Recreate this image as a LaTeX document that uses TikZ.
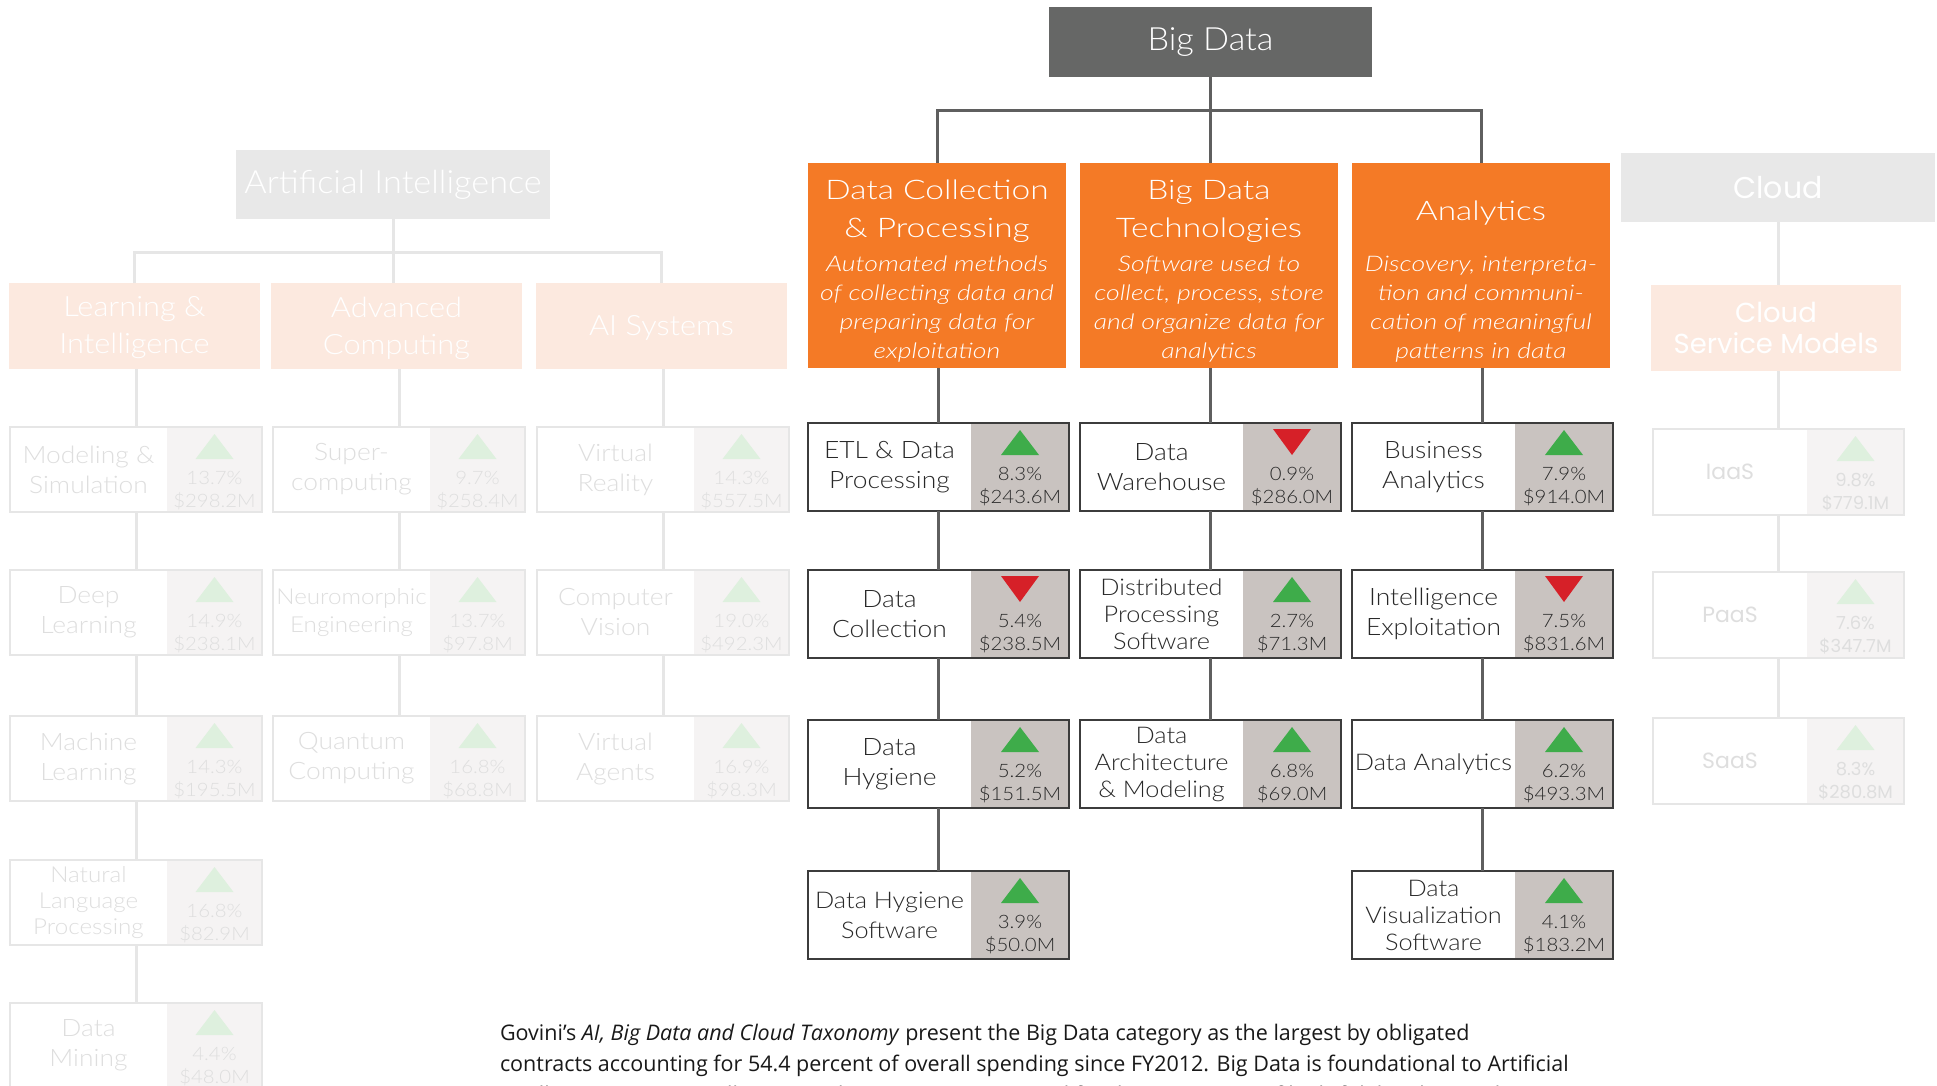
\documentclass[tikz,border=0pt]{standalone}
\usepackage{fontspec}
\setmainfont{Lato Light}[FakeStretch=1.1, ItalicFont={Lato Light Italic}]
\newfontfamily\ttlfont{Lato Light}[FakeStretch=1.07]
\newfontfamily\obfont{Lato Light}[FakeStretch=1.24, ItalicFont={Lato Light Italic}]
\newfontfamily\popfont{Poppins}
\newfontfamily\bodyfont{Open Sans}
\usetikzlibrary{calc}

\definecolor{orangeC}{RGB}{244,122,38}
\definecolor{bigdark}{RGB}{102,103,102}
\definecolor{linedark}{RGB}{95,95,95}
\definecolor{borderdark}{RGB}{60,60,60}
\definecolor{graypart}{RGB}{201,195,192}
\definecolor{upgreen}{RGB}{62,172,74}
\definecolor{downred}{RGB}{214,32,40}
\definecolor{textdark}{RGB}{40,40,40}
\definecolor{bodydark}{RGB}{25,25,25}
\definecolor{fadebox}{RGB}{232,232,232}
\definecolor{peach}{RGB}{252,233,223}
\definecolor{fadeline}{RGB}{230,230,230}
\definecolor{fadetext}{RGB}{222,222,222}
\definecolor{fadegray}{RGB}{245,243,243}
\definecolor{fadegreen}{RGB}{222,240,222}

\newcommand\lw{261}
\newcommand\lh{88}
\newcommand\gw{98}

% #1 extra label style, #2 name, #3 x, #4 y, #5 label, #6 pct, #7 money, #8 u/d
\newcommand\leaf[8][]{%
  \node[leafbox, minimum width=\lw pt, minimum height=\lh pt, anchor=north west] (#2) at (#3,#4) {};
  \node[leafgray, minimum width=\gw pt, minimum height=\lh pt, anchor=north east] (#2-g) at (#2.north east) {};
  \draw[leafborder] (#2.north west) rectangle (#2.south east);
  \node[leaflabel,#1] (#2-t) at ($(#2.west)!0.5!(#2-g.west)$) {#5};
  \ifx u#8
    \fill[upcol] ($(#2-g.north)+(0,7)$) -- ++(19,25) -- ++(-38,0) -- cycle;
  \else
    \fill[downcol] ($(#2-g.north)+(-19,6)$) -- ++(38,0) -- ++(-19,26) -- cycle;
  \fi
  \node[leafnum, anchor=base] (#2-p) at ($(#2-g.north)+(0,57)$) {#6};
  \node[leafnum, anchor=base] (#2-m) at ($(#2-g.north)+(0,80)$) {#7};
}

\begin{document}
\begin{tikzpicture}[x=1pt,y=-1pt,
  every node/.style={inner sep=0pt, outer sep=0pt},
  leafbox/.style={fill=white},
  leafgray/.style={fill=graypart},
  leafborder/.style={draw=borderdark, line width=2pt},
  leaflabel/.style={text=textdark, align=center, font=\fontsize{24}{30}\selectfont},
  leafnum/.style={text=textdark, font=\fontsize{18.5}{22}\selectfont},
  upcol/.style={fill=upgreen},
  downcol/.style={fill=downred},
  conn/.style={draw=linedark, line width=3pt},
  fconn/.style={draw=fadeline, line width=3pt},
  obox/.style={fill=orangeC, minimum width=258pt, minimum height=205pt, anchor=north west},
  otitle/.style={text=white, align=center, font=\obfont\fontsize{27}{38}\selectfont},
  odesc/.style={text=white, align=center, font=\obfont\itshape\fontsize{21.5}{29}\selectfont},
  fadetitle/.style={fill=fadebox, minimum width=314pt, minimum height=69pt, anchor=north west},
  peachbox/.style={fill=peach, minimum width=251pt, minimum height=86pt, anchor=north west},
  bodytext/.style={text=bodydark, anchor=base west, font=\bodyfont\fontsize{21.5}{22}\selectfont}
]
\useasboundingbox (0,0) rectangle (1937,1086);
\fill[white] (0,0) rectangle (1937,1086);
\clip (0,0) rectangle (1937,1086);

% ================= Artificial Intelligence (faded) =================
\node[fadetitle] (ait) at (236,150) {};
\node[text=white, font=\ttlfont\fontsize{32}{36}\selectfont] (ait-t) at (ait.center) {Artificial Intelligence};
\node[peachbox] (am1) at (9,283) {};
\node[peachbox] (am2) at (271,283) {};
\node[peachbox] (am3) at (536,283) {};
\coordinate (aij) at (393,252);
\draw[fconn] (ait.south) -- (ait.south |- am2.north);
\draw[fconn] (am1.north) -- (am1.north |- aij) -- (am3.north |- aij) -- (am3.north);

\begin{scope}[
  leafbox/.style={fill=white},
  leafgray/.style={fill=fadegray},
  leafborder/.style={draw=fadeline, line width=2pt},
  leaflabel/.style={text=fadetext, align=center, font=\fontsize{24}{30}\selectfont},
  leafnum/.style={text=fadetext, font=\fontsize{18.5}{22}\selectfont},
  upcol/.style={fill=fadegreen}]
  \renewcommand\lw{252}\renewcommand\lh{85}\renewcommand\gw{95}
  \leaf{a11}{10}{427}{Modeling \&\\Simulation}{13.7\%}{\$298.2M}{u}
  \leaf{a12}{10}{570}{Deep\\Learning}{14.9\%}{\$238.1M}{u}
  \leaf{a13}{10}{716}{Machine\\Learning}{14.3\%}{\$195.5M}{u}
  \leaf[font=\fontsize{22}{26}\selectfont]{a14}{10}{860}{Natural\\Language\\Processing}{16.8\%}{\$82.9M}{u}
  \leaf{a15}{10}{1003}{Data\\Mining}{4.4\%}{\$48.0M}{u}
  \leaf{a21}{273}{427}{Super-\\computing}{9.7\%}{\$258.4M}{u}
  \leaf[font=\fontsize{22}{28}\selectfont]{a22}{273}{570}{Neuromorphic\\Engineering}{13.7\%}{\$97.8M}{u}
  \leaf{a23}{273}{716}{Quantum\\Computing}{16.8\%}{\$68.8M}{u}
  \leaf{a31}{537}{427}{Virtual\\Reality}{14.3\%}{\$557.5M}{u}
  \leaf{a32}{537}{570}{Computer\\Vision}{19.0\%}{\$492.3M}{u}
  \leaf{a33}{537}{716}{Virtual\\Agents}{16.9\%}{\$98.3M}{u}
\end{scope}
\draw[fconn] (a11.north) -- (a11.north |- am1.south);
\draw[fconn] (a11.south) -- (a12.north);
\draw[fconn] (a12.south) -- (a13.north);
\draw[fconn] (a13.south) -- (a14.north);
\draw[fconn] (a14.south) -- (a15.north);
\draw[fconn] (a21.north) -- (a21.north |- am2.south);
\draw[fconn] (a21.south) -- (a22.north);
\draw[fconn] (a22.south) -- (a23.north);
\draw[fconn] (a31.north) -- (a31.north |- am3.south);
\draw[fconn] (a31.south) -- (a32.north);
\draw[fconn] (a32.south) -- (a33.north);
\node[text=white, align=center, font=\fontsize{28}{37}\selectfont] (am1-t) at ($(am1.center)+(0,2)$) {Learning \&\\Intelligence};
\node[text=white, align=center, font=\fontsize{28}{37}\selectfont] (am2-t) at ($(am2.center)+(0,2)$) {Advanced\\Computing};
\node[text=white, align=center, font=\fontsize{28}{37}\selectfont] (am3-t) at ($(am3.center)+(0,2)$) {AI Systems};

% ================= Big Data =================
\node[fill=bigdark, minimum width=323pt, minimum height=70pt, anchor=north west] (bd) at (1049,7) {};
\node[text=white, font=\ttlfont\fontsize{32}{36}\selectfont] (bd-t) at (bd.center) {Big Data};
\node[obox] (o1) at (808,163) {};
\node[obox] (o2) at (1080,163) {};
\node[obox] (o3) at (1352,163) {};
\coordinate (bdj) at (1209,111);
\draw[conn] (bd.south) -- (bd.south |- o2.north);
\draw[conn] (o1.north) -- (o1.north |- bdj) -- (o3.north |- bdj) -- (o3.north);
\node[otitle] (o1-t) at (937,211) {Data Collection\\\& Processing};
\node[odesc] (o1-d) at (937,309) {Automated methods\\of collecting data and\\preparing data for\\exploitation};
\node[otitle] (o2-t) at (1209,211) {Big Data\\Technologies};
\node[odesc] (o2-d) at (1209,309) {Software used to\\collect, process, store\\and organize data for\\analytics};
\node[otitle] (o3-t) at (1481,213) {Analytics};
\node[odesc] (o3-d) at (1481,309) {Discovery, interpreta-\\tion and communi-\\cation of meaningful\\patterns in data};

\leaf{b11}{808}{423}{ETL \& Data\\Processing}{8.3\%}{\$243.6M}{u}
\leaf{b12}{808}{570}{Data\\Collection}{5.4\%}{\$238.5M}{d}
\leaf{b13}{808}{720}{Data\\Hygiene}{5.2\%}{\$151.5M}{u}
\leaf[font=\fontsize{23}{30}\selectfont]{b14}{808}{871}{Data Hygiene\\Software}{3.9\%}{\$50.0M}{u}
\leaf{b21}{1080}{423}{Data\\Warehouse}{0.9\%}{\$286.0M}{d}
\leaf[font=\fontsize{23}{27}\selectfont]{b22}{1080}{570}{Distributed\\Processing\\Software}{2.7\%}{\$71.3M}{u}
\leaf[font=\fontsize{23}{27}\selectfont]{b23}{1080}{720}{Data\\Architecture\\\& Modeling}{6.8\%}{\$69.0M}{u}
\leaf{b31}{1352}{423}{Business\\Analytics}{7.9\%}{\$914.0M}{u}
\leaf{b32}{1352}{570}{Intelligence\\Exploitation}{7.5\%}{\$831.6M}{d}
\leaf[font=\fontsize{23}{30}\selectfont]{b33}{1352}{720}{Data Analytics}{6.2\%}{\$493.3M}{u}
\leaf[font=\fontsize{23}{27}\selectfont]{b34}{1352}{871}{Data\\Visualization\\Software}{4.1\%}{\$183.2M}{u}

\draw[conn] (b11.north) -- (b11.north |- o1.south);
\draw[conn] (b11.south) -- (b12.north);
\draw[conn] (b12.south) -- (b13.north);
\draw[conn] (b13.south) -- (b14.north);
\draw[conn] (b21.north) -- (b21.north |- o2.south);
\draw[conn] (b21.south) -- (b22.north);
\draw[conn] (b22.south) -- (b23.north);
\draw[conn] (b31.north) -- (b31.north |- o3.south);
\draw[conn] (b31.south) -- (b32.north);
\draw[conn] (b32.south) -- (b33.north);
\draw[conn] (b33.south) -- (b34.north);

% ================= Cloud (faded) =================
\node[fadetitle] (ct) at (1621,153) {};
\node[text=white, font=\popfont\fontsize{30}{34}\selectfont] (ct-t) at (ct.center) {Cloud};
\node[peachbox, minimum width=250pt] (cm) at (1651,285) {};
\node[text=white, align=center, font=\popfont\fontsize{27.5}{31}\selectfont] (cm-t) at (cm.center) {Cloud\\Service Models};
\begin{scope}[
  leafbox/.style={fill=white},
  leafgray/.style={fill=fadegray},
  leafborder/.style={draw=fadeline, line width=2pt},
  leaflabel/.style={text=fadetext, align=center, font=\popfont\fontsize{22}{26}\selectfont},
  leafnum/.style={text=fadetext, font=\popfont\fontsize{18}{22}\selectfont},
  upcol/.style={fill=fadegreen}]
  \renewcommand\lw{251}\renewcommand\lh{86}\renewcommand\gw{97}
  \leaf{c1}{1653}{429}{IaaS}{9.8\%}{\$779.1M}{u}
  \leaf{c2}{1653}{572}{PaaS}{7.6\%}{\$347.7M}{u}
  \leaf{c3}{1653}{718}{SaaS}{8.3\%}{\$280.8M}{u}
\end{scope}
\draw[fconn] (ct.south) -- (ct.south |- cm.north);
\draw[fconn] (c1.north) -- (c1.north |- cm.south);
\draw[fconn] (c1.south) -- (c2.north);
\draw[fconn] (c2.south) -- (c3.north);

% ================= Body text =================
\node[bodytext] (p1) at (500,1040) {Govini’s \textit{AI, Big Data and Cloud Taxonomy} present the Big Data category as the largest by obligated};
\node[bodytext] (p2) at (500,1071) {contracts accounting for 54.4 percent of overall spending since FY2012. Big Data is foundational to Artificial};
\node[bodytext] (p3) at (500,1102) {Intelligence as Data Collection and Processing is required for the acquisition of high-fidelity data and};
\end{tikzpicture}
\end{document}
